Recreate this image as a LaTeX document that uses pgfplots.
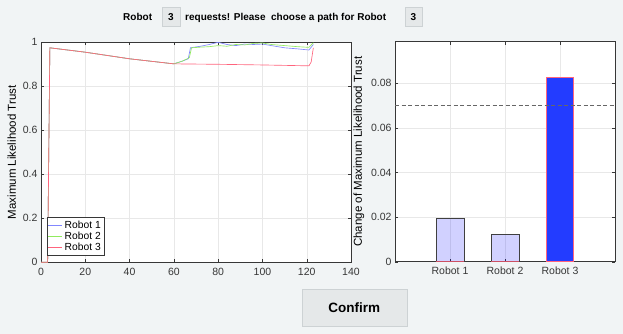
\documentclass[border=0pt]{standalone}
\usepackage{pgfplots}
\pgfplotsset{compat=1.18}
\usepackage{fontspec}
\setmainfont{Liberation Sans}
\definecolor{bg}{RGB}{241,244,245}
\definecolor{boxgray}{RGB}{229,232,233}
\definecolor{boxedge}{RGB}{205,210,212}
\definecolor{tickgray}{RGB}{55,55,55}
\definecolor{rob1}{RGB}{130,135,255}
\definecolor{rob2}{RGB}{145,235,95}
\definecolor{rob3}{RGB}{255,100,125}
\definecolor{barblue}{RGB}{35,60,255}
\pgfplotsset{
  matlab/.style={
    scale only axis,
    axis background/.style={fill=white},
    tick align=inside,
    ticklabel style={font=\fontsize{10.5}{12}\selectfont, color=tickgray},
    xticklabel style={yshift=-2pt},
    label style={font=\fontsize{11.5}{13}\selectfont, color=black},
    grid=major,
    major grid style={black!9},
    axis line style={tickgray},
    tick style={tickgray},
    major tick length=3pt,
    scaled y ticks=false,
    /pgf/number format/assume math mode=true,
  }
}
\begin{document}
\begin{tikzpicture}[x=1pt,y=1pt]
\fill[bg] (0,0) rectangle (623,334);
% title
\node[font=\bfseries\fontsize{10}{12}\selectfont, anchor=base west, inner sep=0] at (123,313.3) {Robot};
\draw[fill=boxgray, draw=boxedge] (162,308) rectangle (180,326.7);
\node[font=\bfseries\fontsize{10}{12}\selectfont, anchor=base, inner sep=0] at (171,313.3) {3};
\node[font=\bfseries\fontsize{10}{12}\selectfont, anchor=base west, inner sep=0] at (185,313.3) {requests! Please\ \ choose a path for Robot};
\draw[fill=boxgray, draw=boxedge] (405,308) rectangle (422,326.7);
\node[font=\bfseries\fontsize{10}{12}\selectfont, anchor=base, inner sep=0] at (413.5,313.3) {3};
% confirm button
\draw[fill=boxgray, draw=boxedge] (301.7,8) rectangle (406.7,44.7);
\node[font=\bfseries\fontsize{13.5}{15}\selectfont] at (354.2,26.3) {Confirm};

\begin{axis}[matlab,
  at={(41pt,71.7pt)}, anchor=south west,
  width=310pt, height=220pt,
  xmin=0, xmax=140, ymin=0, ymax=1,
  xtick={0,20,...,140}, ytick={0,0.2,...,1},
  yticklabels={0,0.2,0.4,0.6,0.8,1},
  ylabel={Maximum Likelihood Trust},
  legend style={at={(0.018,0.033)}, anchor=south west, font=\fontsize{10.3}{11}\selectfont,
     inner sep=1.3pt, row sep=-2pt, cells={anchor=west}, draw=tickgray},
  legend cell align=left,
  legend image code/.code={\draw[#1] (0pt,0pt) -- (14pt,0pt);},
]
\addplot[rob1, line width=0.65pt] coordinates {
(0,0) (3,0) (4,0.975) (20,0.955) (40,0.925) (60,0.902) (64,0.915) (66.5,0.925)
(67.5,0.975) (72,0.982) (76,0.99) (80,1.0) (84,0.99) (88,0.985) (92,0.992)
(96,0.99) (100,0.992) (104,0.985) (110,0.975) (116,0.97) (121,0.965) (123,0.99)};
\addlegendentry{Robot 1}
\addplot[rob2, line width=0.65pt] coordinates {
(0,0) (3,0) (4,0.975) (20,0.955) (40,0.925) (60,0.902) (64,0.915) (67,0.93)
(68,0.975) (72,0.978) (76,0.98) (80,0.985) (84,0.982) (88,0.99) (92,0.988)
(96,0.995) (100,0.997) (104,0.99) (110,0.985) (116,0.98) (121,0.977) (123,0.998)};
\addlegendentry{Robot 2}
\addplot[rob3, line width=0.65pt] coordinates {
(0,0) (3,0) (4,0.975) (20,0.955) (40,0.925) (60,0.902) (80,0.9) (100,0.897)
(121,0.893) (122,0.91) (123,0.975)};
\addlegendentry{Robot 3}
\end{axis}

\begin{axis}[matlab,
  at={(395pt,72.3pt)}, anchor=south west,
  width=220pt, height=220pt,
  xmin=0, xmax=4, ymin=0, ymax=0.0987,
  xtick={1,2,3}, xticklabels={Robot 1,Robot 2,Robot 3},
  ytick={0,0.02,0.04,0.06,0.08},
  yticklabels={0,0.02,0.04,0.06,0.08},
  ylabel={Change of Maximum Likelihood Trust},
]
\addplot[ybar, bar width=0.5, bar shift=0pt, fill=blue, fill opacity=0.18, draw=black!75, draw opacity=1] coordinates {(1,0.0197)};
\addplot[ybar, bar width=0.5, bar shift=0pt, fill=blue, fill opacity=0.18, draw=black!75, draw opacity=1] coordinates {(2,0.0123)};
\addplot[ybar, bar width=0.5, bar shift=0pt, fill=barblue, draw=rob3, line width=0.8pt] coordinates {(3,0.0825)};
\addplot[rob3!80!black, line width=0.8pt] coordinates {(0.75,0) (1.25,0)};
\addplot[rob3!80!black, line width=0.8pt] coordinates {(1.75,0) (2.25,0)};
\addplot[black!60, line width=0.6pt, dash pattern=on 4pt off 2.5pt] coordinates {(0,0.07) (4,0.07)};
\end{axis}
\end{tikzpicture}
\end{document}
